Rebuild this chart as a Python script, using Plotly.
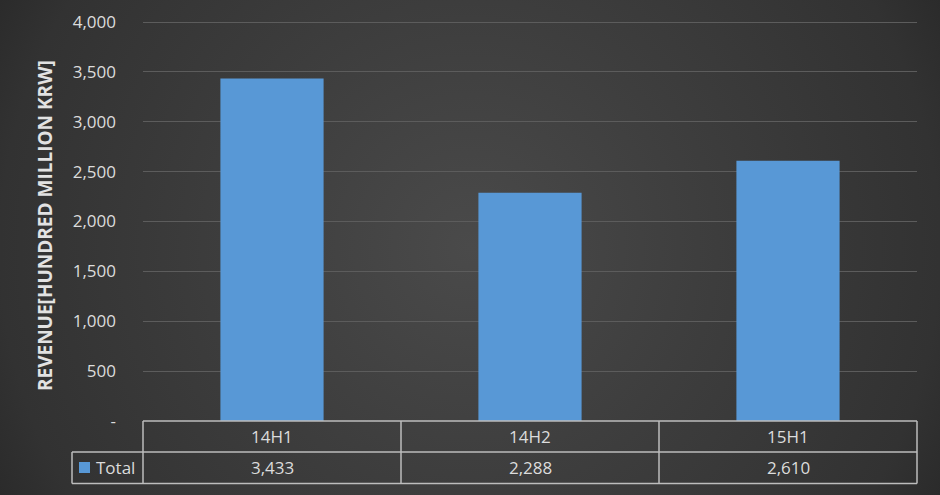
import plotly.graph_objects as go

categories = ["14H1", "14H2", "15H1"]
revenue = [3433, 2288, 2610]
series_name = "Total"
y_tickvals = [0, 500, 1000, 1500, 2000, 2500, 3000, 3500, 4000]
y_ticktext = ["-", "500", "1,000", "1,500", "2,000", "2,500", "3,000", "3,500", "4,000"]
y_title = "REVENUE[HUNDRED MILLION KRW]"

W, H = 940, 495
PL, PR, PT, PB = 143, 917, 22, 421  # 4000 gridline at PT, 0 at PB
PT_DOM = 18  # domain top a bit above the top gridline so it is drawn
FONT = "Open Sans, Noto Sans, sans-serif"
TXT = "#dcdcdc"
LINE = "#bdbdbd"
BAR = "#5898d6"
FS = 17
YMAX = 4000 * (PB - PT_DOM) / (PB - PT)


def px(x):
    return x / W


def py(y):
    return 1 - y / H


fig = go.Figure()

# background radial gradient (decoration on full-page axes), circular in pixels
R = 531.0
hx, hy = R / W, R / H
fig.add_trace(go.Scatter(
    x=[0.5 - hx, 0.5 + hx, 0.5 + hx, 0.5 - hx, 0.5 - hx],
    y=[0.5 - hy, 0.5 - hy, 0.5 + hy, 0.5 + hy, 0.5 - hy],
    mode="lines", fill="toself",
    line=dict(width=0), hoverinfo="skip", showlegend=False,
    fillgradient=dict(type="radial", colorscale=[[0, "#4a4a4a"], [0.465, "#3d3d3d"],
                                                 [0.885, "#323232"], [1, "#2b2b2b"]]),
    xaxis="x", yaxis="y",
))

fig.add_trace(go.Bar(
    x=categories, y=revenue, name=series_name, marker=dict(color=BAR, line=dict(width=0)),
    width=0.4, xaxis="x2", yaxis="y2", showlegend=False,
))

fig.update_layout(
    template="none",
    width=W, height=H, autosize=False,
    margin=dict(l=0, r=0, t=0, b=0, pad=0, autoexpand=False),
    paper_bgcolor="#333333", plot_bgcolor="rgba(0,0,0,0)",
    font=dict(family=FONT, color=TXT, size=FS),
    xaxis=dict(domain=[0, 1], range=[0, 1], visible=False, fixedrange=True, automargin=False),
    yaxis=dict(domain=[0, 1], range=[0, 1], visible=False, fixedrange=True, automargin=False),
    xaxis2=dict(domain=[px(PL), px(PR)], anchor="y2", showticklabels=False, showgrid=False,
                zeroline=False, showline=False, ticks="", automargin=False, fixedrange=True),
    yaxis2=dict(domain=[py(PB), py(PT_DOM)], anchor="x2", range=[0, YMAX], automargin=False,
                tickvals=y_tickvals, ticktext=y_ticktext, showgrid=True, gridcolor="#5c5c5c",
                gridwidth=1, zeroline=False, showline=False, ticks="", fixedrange=True,
                tickfont=dict(size=FS, color=TXT), ticklabelstandoff=26),
    bargap=0.6,
    showlegend=False,
)

# y title
fig.add_annotation(text=f"<b>{y_title}</b>", x=px(45), y=py(226), xref="paper", yref="paper",
                   textangle=-90, showarrow=False, font=dict(size=19, color="#e2e2e2"),
                   xanchor="center", yanchor="middle")

# data table lines
rowA, rowB, rowC = 421, 452, 483.5
n = len(categories)
colw = (PR - PL) / n
shapes = []
shapes.append(dict(type="line", x0=px(PL), x1=px(PR), y0=py(rowA), y1=py(rowA)))
shapes.append(dict(type="line", x0=px(72), x1=px(PR), y0=py(rowB), y1=py(rowB)))
shapes.append(dict(type="line", x0=px(72), x1=px(PR), y0=py(rowC), y1=py(rowC)))
shapes.append(dict(type="line", x0=px(72), x1=px(72), y0=py(rowB), y1=py(rowC)))
for i in range(n + 1):
    xx = PL + i * colw
    shapes.append(dict(type="line", x0=px(xx), x1=px(xx), y0=py(rowA), y1=py(rowC)))
for s in shapes:
    s.update(xref="paper", yref="paper", line=dict(color=LINE, width=1.5))
    fig.add_shape(**s)

# legend swatch
fig.add_shape(type="rect", xref="paper", yref="paper", x0=px(79), x1=px(90), y0=py(462), y1=py(473),
              fillcolor=BAR, line=dict(width=0))
fig.add_annotation(text=series_name, x=px(94), y=py(467.5), xref="paper", yref="paper",
                   showarrow=False, xanchor="left", yanchor="middle", font=dict(size=FS, color=TXT))

for i, (c, v) in enumerate(zip(categories, revenue)):
    cx = PL + (i + 0.5) * colw
    fig.add_annotation(text=c, x=px(cx), y=py(436), xref="paper", yref="paper", showarrow=False,
                       xanchor="center", yanchor="middle", font=dict(size=FS, color=TXT))
    fig.add_annotation(text=f"{v:,}", x=px(cx), y=py(467.5), xref="paper", yref="paper", showarrow=False,
                       xanchor="center", yanchor="middle", font=dict(size=FS, color=TXT))

fig.write_html("out.html", config={"displayModeBar": False},
               post_script="document.body.style.margin='0';document.body.style.overflow='hidden';")
